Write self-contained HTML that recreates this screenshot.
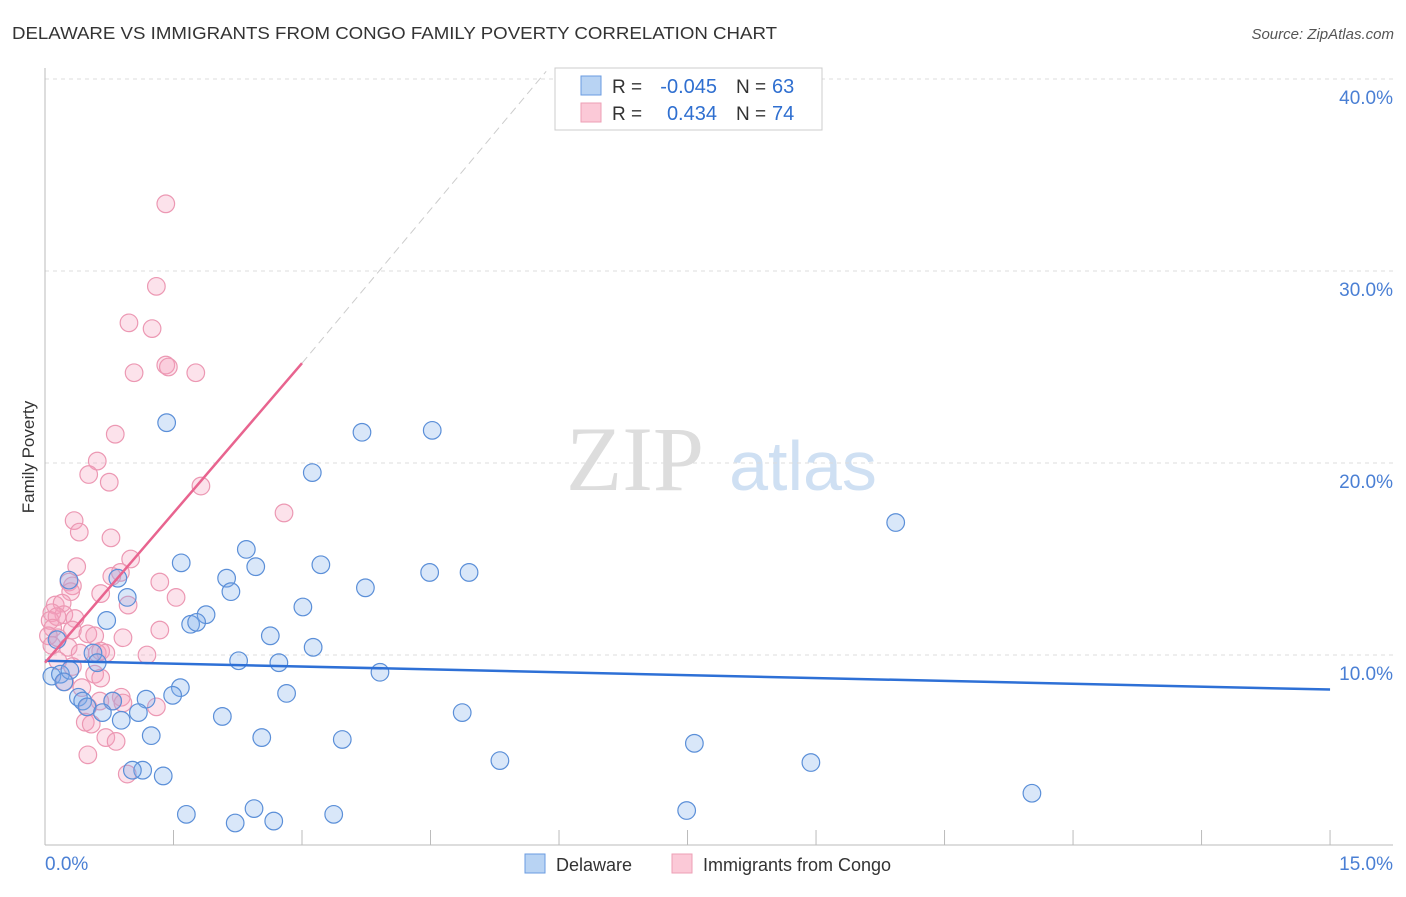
<!DOCTYPE html>
<html><head><meta charset="utf-8"><style>
body{margin:0;background:#fff;font-family:"Liberation Sans",sans-serif;}
</style></head><body>
<svg id="c" width="1406" height="892" xmlns="http://www.w3.org/2000/svg" style="font-family:'Liberation Sans',sans-serif">
<text x="12" y="39" font-size="17.5" fill="#333" textLength="765" lengthAdjust="spacingAndGlyphs">DELAWARE VS IMMIGRANTS FROM CONGO FAMILY POVERTY CORRELATION CHART</text>
<text x="1394" y="39" font-size="15" fill="#555" font-style="italic" text-anchor="end">Source: ZipAtlas.com</text>
<text x="34" y="457" font-size="17" fill="#333" text-anchor="middle" transform="rotate(-90 34 457)">Family Poverty</text>
<g><text x="635" y="490" font-size="92" fill="#ddd" font-family="Liberation Serif" text-anchor="middle">ZIP</text><text x="803" y="490" font-size="70" fill="#cfe0f3" text-anchor="middle">atlas</text></g>
<g id="grid"></g><g id="axes"></g><g id="pts"></g><g id="trend"></g>
<g>
<rect x="555" y="68" width="267" height="62" fill="#fff" stroke="#ccc"/>
<rect x="581" y="76" width="20" height="19" fill="#b8d3f3" stroke="#6a9be0"/>
<rect x="581" y="103" width="20" height="19" fill="#fbc9d7" stroke="#ee9fb6"/>
<text x="612" y="93" font-size="19" fill="#333">R =</text>
<text x="717" y="93" font-size="20" fill="#2f6fd0" text-anchor="end">-0.045</text>
<text x="736" y="93" font-size="19" fill="#333">N =</text>
<text x="772" y="93" font-size="20" fill="#2f6fd0">63</text>
<text x="612" y="120" font-size="19" fill="#333">R =</text>
<text x="717" y="120" font-size="20" fill="#2f6fd0" text-anchor="end">0.434</text>
<text x="736" y="120" font-size="19" fill="#333">N =</text>
<text x="772" y="120" font-size="20" fill="#2f6fd0">74</text>
</g>
<g>
<rect x="525" y="854" width="20" height="19" fill="#b8d3f3" stroke="#6a9be0"/>
<text x="556" y="871" font-size="18" fill="#333">Delaware</text>
<rect x="672" y="854" width="20" height="19" fill="#fbc9d7" stroke="#ee9fb6"/>
<text x="703" y="871" font-size="18" fill="#333">Immigrants from Congo</text>
</g>
</svg>
<script>
const yTicks=[10,20,30,40];
const xTickLabels=["0.0%","15.0%"];
const blueX=[1.42,3.70,4.52,3.12,9.93,2.35,1.59,2.46,3.22,4.49,4.95,2.12,0.85,0.28,3.74,2.17,0.96,1.88,3.01,0.72,1.70,1.77,2.63,3.13,0.14,0.56,0.61,2.26,2.73,3.91,0.08,0.18,0.29,0.22,1.58,1.49,2.82,0.39,0.44,1.18,0.79,0.49,0.67,1.09,0.89,2.07,4.87,1.24,2.53,3.47,7.58,5.31,8.94,1.14,1.02,1.38,11.52,2.44,7.49,1.65,3.37,2.22,2.67];
const blueY=[22.1,21.6,21.7,19.5,16.9,15.5,14.8,14.6,14.7,14.3,14.3,14.0,14.0,13.9,13.5,13.3,13.0,12.1,12.5,11.8,11.6,11.7,11.0,10.4,10.8,10.1,9.6,9.7,9.6,9.1,8.9,9.0,9.2,8.6,8.3,7.9,8.0,7.8,7.6,7.7,7.6,7.3,7.0,7.0,6.6,6.8,7.0,5.8,5.7,5.6,5.4,4.5,4.4,4.0,4.0,3.7,2.8,2.0,1.9,1.7,1.7,1.25,1.35];
const pinkX=[1.41,1.30,0.98,1.25,1.04,1.41,1.44,1.76,0.82,0.61,0.51,0.75,1.82,2.79,0.34,0.40,0.77,1.00,0.37,0.88,0.78,1.34,0.28,0.32,0.65,0.30,1.53,0.12,0.20,0.97,0.22,0.08,0.06,0.14,0.35,0.09,0.32,1.34,0.04,0.15,0.50,0.58,0.91,0.08,0.27,0.41,0.61,0.65,1.19,0.71,0.15,0.32,0.58,0.65,0.23,0.43,0.89,0.64,0.50,0.79,1.30,0.47,0.54,0.71,0.83,0.50,0.96,0.91];
const pinkY=[33.5,29.2,27.3,27.0,24.7,25.1,25.0,24.7,21.5,20.1,19.4,19.0,18.8,17.4,17.0,16.4,16.1,15.0,14.6,14.3,14.1,13.8,13.8,13.6,13.2,13.3,13.0,12.6,12.7,12.6,12.1,12.2,11.8,12.0,11.9,11.4,11.3,11.3,11.0,10.9,11.1,11.0,10.9,10.5,10.4,10.1,10.1,10.2,10.0,10.1,9.7,9.4,9.0,8.8,8.6,8.3,7.8,7.6,7.3,7.6,7.3,6.5,6.4,5.7,5.5,4.8,3.8,7.5];
const blueTrend=[[0,9.7],[15,8.2]];
const pinkTrend=[[0,9.6],[3,25.2]];
const pinkDash=[[3,25.2],[5.85,40.4]];
const X=v=>45+v*85.67, Y=v=>847-v*19.2;
const NS="http://www.w3.org/2000/svg";
function mk(t,a,p){const e=document.createElementNS(NS,t);for(const k in a)e.setAttribute(k,a[k]);document.getElementById(p).appendChild(e);return e;}
yTicks.forEach(t=>{
 const l=mk('line',{x1:45,x2:1393,y1:Y(t),y2:Y(t),stroke:'#ddd','stroke-dasharray':'4,4'},'grid');
 
 
 const tx=mk('text',{x:1393,y:Y(t)+25,'font-size':19,fill:'#4a7fd4','text-anchor':'end'},'grid');
 tx.textContent=t.toFixed(1)+'%';
 
 
});
let a=mk('line',{x1:45,x2:45,y1:68,y2:845,stroke:'#bbb'},'axes');


a=mk('line',{x1:45,x2:1393,y1:845,y2:845,stroke:'#bbb'},'axes');


for(let i=0;i<=10;i++){const t=mk('line',{x1:X(i*1.5),x2:X(i*1.5),y1:830,y2:845,stroke:'#bbb'},'axes');
 
 }
let xl=mk('text',{x:45,y:870,'font-size':19,fill:'#4a7fd4'},'axes');xl.textContent=xTickLabels[0];


xl=mk('text',{x:1393,y:870,'font-size':19,fill:'#4a7fd4','text-anchor':'end'},'axes');xl.textContent=xTickLabels[1];


pinkX.forEach((v,i)=>{const c=mk('circle',{cx:X(v),cy:Y(pinkY[i]),r:8.8,fill:'rgba(244,160,188,0.3)',stroke:'#ec98b3','stroke-width':1.2},'pts');
 
 });
blueX.forEach((v,i)=>{const c=mk('circle',{cx:X(v),cy:Y(blueY[i]),r:8.8,fill:'rgba(130,175,235,0.3)',stroke:'#5b8fd8','stroke-width':1.2},'pts');
 
 });
let t=mk('line',{x1:X(blueTrend[0][0]),y1:Y(blueTrend[0][1]),x2:X(blueTrend[1][0]),y2:Y(blueTrend[1][1]),stroke:'#2e70d6','stroke-width':2.5},'trend');


t=mk('line',{x1:X(pinkTrend[0][0]),y1:Y(pinkTrend[0][1]),x2:X(pinkTrend[1][0]),y2:Y(pinkTrend[1][1]),stroke:'#e8648f','stroke-width':2.5},'trend');


t=mk('line',{x1:X(pinkDash[0][0]),y1:Y(pinkDash[0][1]),x2:X(pinkDash[1][0]),y2:Y(pinkDash[1][1]),stroke:'#ccc','stroke-width':1,'stroke-dasharray':'8,5'},'trend');


</script>
</body></html>
